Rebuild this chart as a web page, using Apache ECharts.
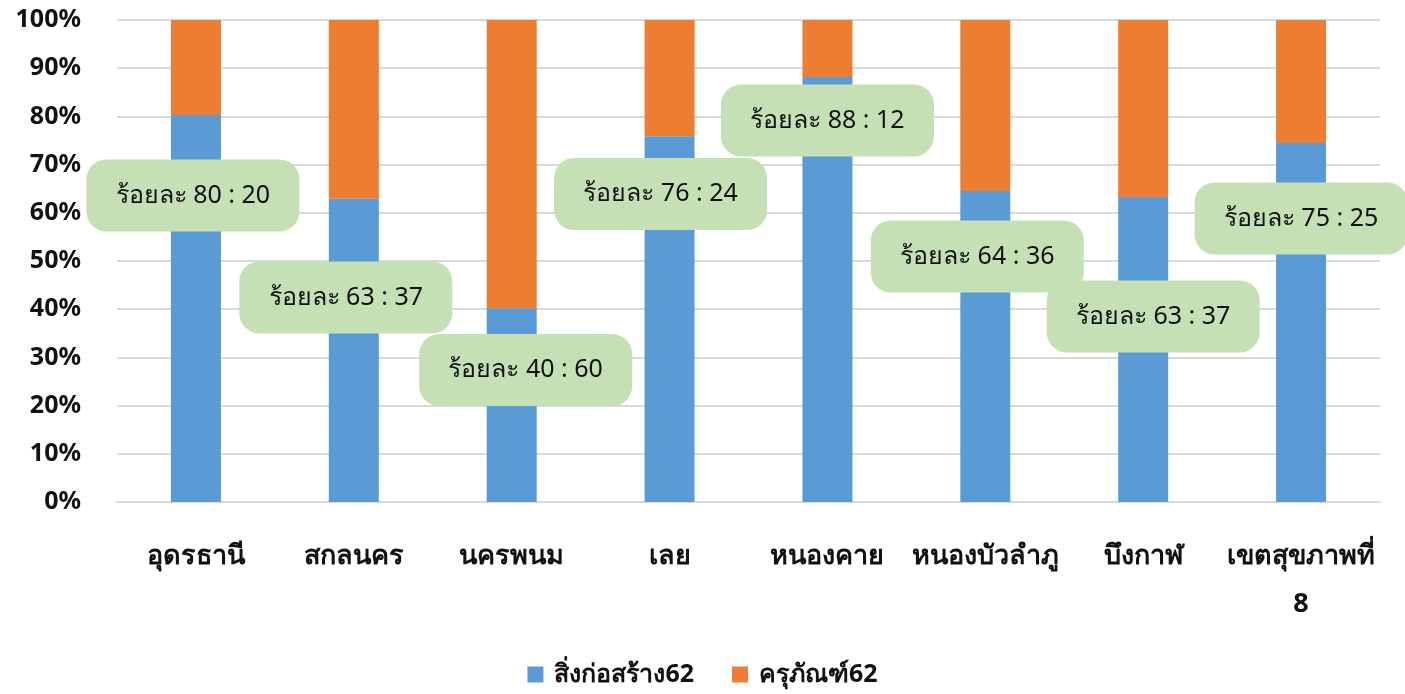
<!DOCTYPE html>
<html><head><meta charset="utf-8">
<script src="https://cdn.jsdelivr.net/npm/echarts@6/dist/echarts.min.js"></script>
<style>html,body{margin:0;padding:0;background:#fff}#c{width:1405px;height:694px}</style>
</head><body><div id="c"></div>
<script>
const categories = ['อุดรธานี','สกลนคร','นครพนม','เลย','หนองคาย','หนองบัวลำภู','บึงกาฬ','เขตสุขภาพที่\n8'];
const seriesNames = ['สิ่งก่อสร้าง62','ครุภัณฑ์62'];
const building = [80.3, 62.9, 40.2, 75.9, 88.2, 64.5, 63.3, 74.5];
const equipment = [19.7, 37.1, 59.8, 24.1, 11.8, 35.5, 36.7, 25.5];
const calloutText = ['ร้อยละ 80 : 20','ร้อยละ 63 : 37','ร้อยละ 40 : 60','ร้อยละ 76 : 24','ร้อยละ 88 : 12','ร้อยละ 64 : 36','ร้อยละ 63 : 37','ร้อยละ 75 : 25'];
const yTicks = [0,10,20,30,40,50,60,70,80,90,100];

// layout only: callout offsets from bar centre (px)
const calloutOffset = [[-3,-113],[-8,-53],[14,-35],[-9,-125],[0,-169],[-8,-90],[10,-33],[0,-104]];

const font = "'Noto Sans', 'DejaVu Sans', sans-serif";
const chart = echarts.init(document.getElementById('c'));
chart.setOption({
  animation: false,
  textStyle: {fontFamily: font},
  grid: {left: 117, right: 25, top: 20, bottom: 192},
  legend: {
    bottom: 2, left: 'center', itemWidth: 16, itemHeight: 16, itemGap: 38,
    icon: 'rect',
    textStyle: {fontSize: 25, fontWeight: 'bold', color: '#111', fontFamily: font, padding: [0, 0, 0, 6]},
    data: seriesNames
  },
  xAxis: {
    type: 'category', data: categories,
    axisLine: {lineStyle: {color: '#D9D9D9', width: 2}},
    axisTick: {show: false},
    axisLabel: {fontSize: 27, fontWeight: 'bold', color: '#111', margin: 30, lineHeight: 48, interval: 0}
  },
  yAxis: {
    type: 'value', min: 0, max: 100, interval: 10,
    axisLine: {show: false}, axisTick: {show: false},
    splitLine: {lineStyle: {color: '#D9D9D9', width: 2}},
    axisLabel: {fontSize: 25, fontWeight: 'bold', color: '#111', margin: 36,
      formatter: v => yTicks.includes(v) ? v + '%' : ''}
  },
  series: [
    {
      name: seriesNames[0], type: 'bar', stack: 't', barWidth: 50,
      itemStyle: {color: '#5B9BD5'},
      z: 3,
      data: building.map((v, i) => ({
        value: v,
        label: {
          show: true, position: 'inside', offset: calloutOffset[i],
          formatter: calloutText[i],
          backgroundColor: '#C5E0B4', borderRadius: 20,
          width: 213, height: 72, align: 'center', verticalAlign: 'middle',
          lineHeight: 72,
          color: '#111', fontSize: 25, fontFamily: font
        }
      }))
    },
    {
      name: seriesNames[1], type: 'bar', stack: 't', barWidth: 50,
      itemStyle: {color: '#ED7D31'},
      z: 2,
      data: equipment
    }
  ]
});
</script></body></html>
